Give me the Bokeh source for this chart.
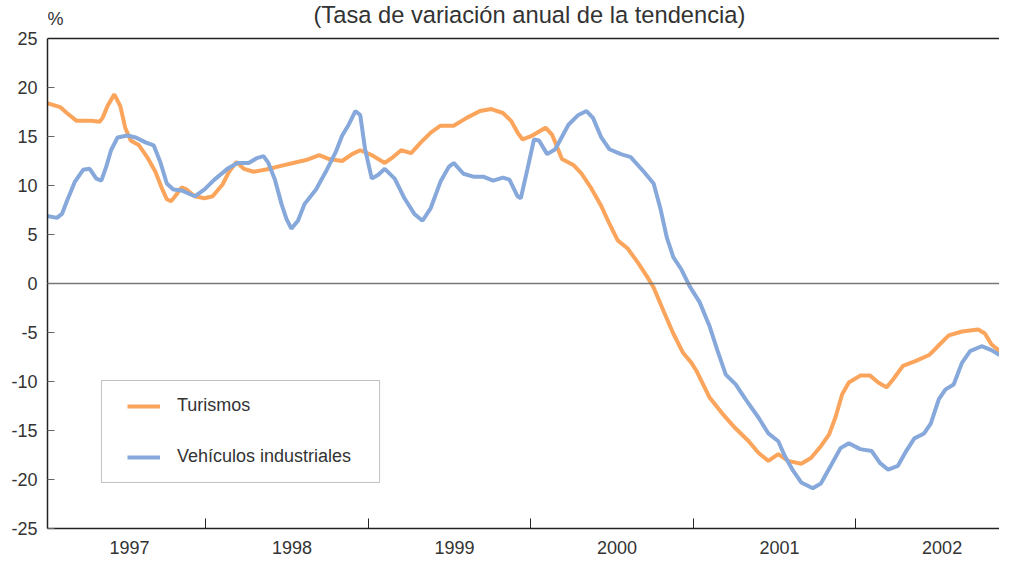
from bokeh.plotting import figure
from bokeh.models import (Range1d, Span, Label, Legend, LegendItem, FixedTicker,
                          CustomJSTickFormatter, BoxAnnotation)
from bokeh.embed import file_html
from bokeh.resources import INLINE

# ---- data (decimal years, % annual change of trend) ----
turismos_t = [1997.024, 1997.104, 1997.145, 1997.205, 1997.296, 1997.346, 1997.365, 1997.395,
              1997.437, 1997.474, 1997.504, 1997.538, 1997.589, 1997.639, 1997.690, 1997.730,
              1997.760, 1997.786, 1997.811, 1997.851, 1997.881, 1997.932, 1997.992, 1998.042,
              1998.103, 1998.143, 1998.188, 1998.234, 1998.295, 1998.395, 1998.436, 1998.537,
              1998.617, 1998.698, 1998.758, 1998.839, 1998.900, 1998.950, 1999.021, 1999.101,
              1999.152, 1999.202, 1999.263, 1999.323, 1999.384, 1999.444, 1999.525, 1999.605,
              1999.687, 1999.757, 1999.828, 1999.878, 1999.918, 1999.949, 2000.009, 2000.090,
              2000.130, 2000.191, 2000.261, 2000.312, 2000.372, 2000.433, 2000.483, 2000.534,
              2000.594, 2000.655, 2000.715, 2000.755, 2000.816, 2000.876, 2000.937, 2000.988,
              2001.018, 2001.098, 2001.179, 2001.260, 2001.340, 2001.401, 2001.461, 2001.522,
              2001.582, 2001.663, 2001.723, 2001.784, 2001.835, 2001.875, 2001.915, 2001.956,
              2002.026, 2002.087, 2002.137, 2002.188, 2002.228, 2002.289, 2002.369, 2002.450,
              2002.510, 2002.571, 2002.652, 2002.752, 2002.793, 2002.833, 2002.884]
turismos_v = [18.4, 18.0, 17.4, 16.6, 16.6, 16.5, 16.9, 18.1,
              19.3, 18.1, 15.9, 14.6, 14.1, 12.9, 11.4, 9.7,
              8.6, 8.4, 8.9, 9.8, 9.6, 8.9, 8.7, 8.9,
              10.1, 11.4, 12.4, 11.7, 11.4, 11.7, 11.9, 12.3,
              12.6, 13.1, 12.7, 12.5, 13.2, 13.6, 13.1, 12.3,
              12.9, 13.6, 13.3, 14.4, 15.4, 16.1, 16.1, 16.9,
              17.6, 17.8, 17.4, 16.6, 15.4, 14.7, 15.1, 15.9,
              15.2, 12.7, 12.1, 11.2, 9.7, 7.9, 6.1, 4.4,
              3.6, 2.2, 0.7, -0.4, -2.8, -5.1, -7.1, -8.1,
              -8.9, -11.6, -13.3, -14.8, -16.1, -17.3, -18.1, -17.4,
              -18.1, -18.4, -17.8, -16.6, -15.4, -13.6, -11.3, -10.1,
              -9.4, -9.4, -10.1, -10.6, -9.8, -8.4, -7.9, -7.3,
              -6.3, -5.3, -4.9, -4.7, -5.1, -6.2, -6.9]

vehiculos_t = [1997.024, 1997.084, 1997.115, 1997.145, 1997.195, 1997.245, 1997.286, 1997.326,
               1997.357, 1997.387, 1997.417, 1997.457, 1997.518, 1997.569, 1997.629, 1997.679,
               1997.720, 1997.760, 1997.800, 1997.851, 1997.932, 1997.992, 1998.053, 1998.133,
               1998.194, 1998.264, 1998.315, 1998.355, 1998.385, 1998.425, 1998.466, 1998.496,
               1998.526, 1998.567, 1998.607, 1998.678, 1998.738, 1998.799, 1998.839, 1998.879,
               1998.920, 1998.950, 1998.980, 1999.021, 1999.061, 1999.101, 1999.162, 1999.222,
               1999.283, 1999.333, 1999.384, 1999.444, 1999.495, 1999.525, 1999.585, 1999.646,
               1999.707, 1999.767, 1999.828, 1999.868, 1999.918, 1999.938, 1999.979, 2000.019,
               2000.050, 2000.100, 2000.150, 2000.231, 2000.292, 2000.342, 2000.382, 2000.433,
               2000.483, 2000.554, 2000.614, 2000.695, 2000.755, 2000.796, 2000.836, 2000.876,
               2000.927, 2000.977, 2001.038, 2001.098, 2001.149, 2001.199, 2001.260, 2001.320,
               2001.401, 2001.461, 2001.522, 2001.562, 2001.613, 2001.663, 2001.734, 2001.784,
               2001.845, 2001.905, 2001.956, 2002.026, 2002.097, 2002.147, 2002.198, 2002.258,
               2002.309, 2002.359, 2002.419, 2002.460, 2002.510, 2002.551, 2002.601, 2002.652,
               2002.702, 2002.773, 2002.833, 2002.884]
vehiculos_v = [6.9, 6.7, 7.1, 8.4, 10.4, 11.6, 11.7, 10.7,
               10.5, 11.9, 13.6, 14.9, 15.1, 14.9, 14.4, 14.1,
               12.4, 10.2, 9.6, 9.5, 8.9, 9.6, 10.6, 11.7,
               12.3, 12.3, 12.8, 13.0, 12.3, 10.6, 8.1, 6.6,
               5.6, 6.4, 8.1, 9.6, 11.4, 13.4, 15.1, 16.2,
               17.6, 17.2, 13.7, 10.7, 11.1, 11.7, 10.7, 8.7,
               7.1, 6.4, 7.7, 10.4, 11.9, 12.3, 11.2, 10.9,
               10.9, 10.5, 10.8, 10.6, 8.9, 8.7, 11.7, 14.7,
               14.6, 13.2, 13.7, 16.2, 17.2, 17.6, 16.9, 14.9,
               13.7, 13.2, 12.9, 11.4, 10.2, 7.7, 4.7, 2.7,
               1.4, -0.3, -1.9, -4.3, -6.9, -9.3, -10.3, -11.8,
               -13.7, -15.3, -16.1, -17.6, -19.1, -20.3, -20.9, -20.4,
               -18.6, -16.8, -16.3, -16.9, -17.1, -18.3, -19.0, -18.6,
               -17.1, -15.8, -15.3, -14.3, -11.8, -10.8, -10.3, -8.1,
               -6.9, -6.4, -6.8, -7.3]

years = [1997, 1998, 1999, 2000, 2001, 2002]
series_names = ["Turismos", "Vehículos industriales"]
title_text = "(Tasa de variación anual de la tendencia)"
unit_text = "%"

FONT = "Liberation Sans"
TXT = "#333333"
ORANGE = "#FBA45C"
BLUE = "#86A8DA"

X0, X1 = 1997.026, 2002.883
YMIN, YMAX = -25, 25
YTOP = 28.878  # headroom inside the frame for the unit label and subtitle

p = figure(width=999, height=556, output_backend="svg", toolbar_location=None,
           x_range=Range1d(X0, X1), y_range=Range1d(YMIN, YTOP),
           min_border_left=47, min_border_right=0, min_border_top=0, min_border_bottom=28)
p.outline_line_color = None
p.xgrid.visible = False
p.ygrid.visible = False
p.background_fill_color = "white"
p.border_fill_color = "white"

# axes
ya = p.yaxis[0]
ya.ticker = FixedTicker(ticks=list(range(YMIN, YMAX + 1, 5)))
ya.formatter = CustomJSTickFormatter(code="return tick.toFixed(0);")
ya.bounds = (YMIN, YMAX)
ya.major_tick_in = 7
ya.major_tick_out = 0
ya.minor_tick_line_color = None
ya.major_tick_line_color = "#666666"
ya.axis_line_color = "#222222"
ya.axis_line_width = 1.5
ya.major_label_text_font = FONT
ya.major_label_text_font_size = "18px"
ya.major_label_text_color = TXT
ya.major_label_standoff = 10

xa = p.xaxis[0]
xa.ticker = FixedTicker(ticks=[y + 0.53 for y in years], minor_ticks=years[1:])
xa.formatter = CustomJSTickFormatter(code="return Math.floor(tick).toString();")
xa.major_tick_line_color = None
xa.minor_tick_in = 10
xa.minor_tick_out = 0
xa.minor_tick_line_color = "#222222"
xa.minor_tick_line_width = 1
xa.axis_line_color = "#222222"
xa.axis_line_width = 1.5
xa.major_label_text_font = FONT
xa.major_label_text_font_size = "18px"
xa.major_label_text_color = TXT
xa.major_label_standoff = 6

# frame top line and zero line
p.add_layout(Span(location=YMAX, dimension="width", line_color="#222222", line_width=1.5))
p.add_layout(Span(location=0, dimension="width", line_color="#777777", line_width=1.5))

r1 = p.line(turismos_t, turismos_v, line_color=ORANGE, line_width=4)
r2 = p.line(vehiculos_t, vehiculos_v, line_color=BLUE, line_width=4)

# legend frame
p.add_layout(BoxAnnotation(left=1997.358, right=1999.069, top=-9.9, bottom=-20.3,
                           fill_color="white", fill_alpha=1, line_color="#333333",
                           line_width=1, level="underlay"))
legend = Legend(items=[LegendItem(label=series_names[0], renderers=[r1]),
                       LegendItem(label=series_names[1], renderers=[r2])],
                location=(80, 61), padding=15, spacing=30, glyph_width=33, glyph_height=20,
                label_height=20, label_standoff=17, margin=0,
                border_line_color=None, background_fill_alpha=0,
                label_text_font=FONT, label_text_font_size="18px", label_text_color=TXT)
p.add_layout(legend)

# unit label and subtitle (inside the headroom of the frame)
p.add_layout(Label(x=X0, y=27.04, text=unit_text, text_font=FONT, text_font_size="18px",
                   text_color=TXT, text_baseline="middle", text_align="left", x_offset=0))
p.add_layout(Label(x=1999.991, y=28.7, text=title_text, text_font=FONT, text_font_size="23.7px",
                   text_color=TXT, text_baseline="top", text_align="center"))

open("out.html", "w").write(file_html(p, INLINE))
